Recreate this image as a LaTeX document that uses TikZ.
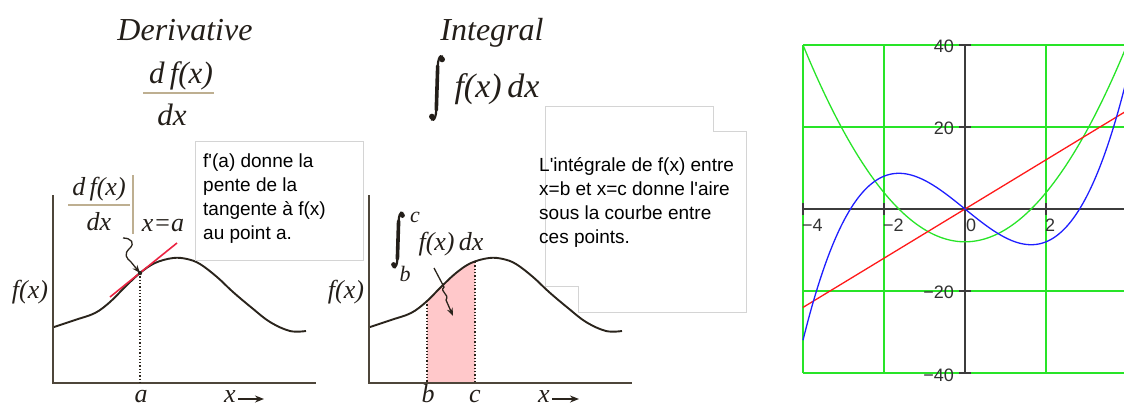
\documentclass[tikz,border=0pt]{standalone}
\usepackage{fontspec}
\setmainfont{Liberation Serif}
\newfontfamily\sansf{Liberation Sans}
\usetikzlibrary{arrows.meta}
\definecolor{axiscol}{RGB}{78,70,58}
\definecolor{curvecol}{RGB}{42,36,28}
\definecolor{mathcol}{RGB}{35,30,25}
\definecolor{barcol}{RGB}{190,175,145}
\definecolor{tanred}{RGB}{235,35,65}
\definecolor{shadecol}{RGB}{255,200,202}
\definecolor{boxline}{RGB}{212,212,212}
\definecolor{gridgreen}{RGB}{40,228,40}
\definecolor{chartaxis}{RGB}{60,60,60}
\definecolor{ticktext}{RGB}{50,50,50}
\definecolor{plotblue}{RGB}{30,30,255}
\definecolor{plotred}{RGB}{255,25,25}
\begin{document}
\begin{tikzpicture}[x=1pt,y=-1pt,
  title/.style={font=\fontsize{32}{38}\selectfont\itshape, text=mathcol, inner sep=0, anchor=base},
  bigmath/.style={font=\fontsize{31}{36}\selectfont\itshape, text=mathcol, inner sep=0, anchor=base},
  mathlbl/.style={font=\fontsize{26}{30}\selectfont\itshape, text=mathcol, inner sep=0, anchor=base},
  limlbl/.style={font=\fontsize{22}{26}\selectfont\itshape, text=mathcol, inner sep=0, anchor=base},
  fracbar/.style={draw=barcol, line width=1.2},
  axisline/.style={draw=axiscol, line width=2.2},
  curveline/.style={draw=curvecol, line width=1.9, line join=round},
  dotline/.style={draw=curvecol, line width=1.3, dotted},
  squig/.style={draw=curvecol, line width=1.3, -{Stealth[length=8pt,width=6pt]}},
  xarrow/.style={draw=curvecol, line width=1.8, -{Stealth[length=9pt,width=7pt]}},
  textbox/.style={draw=boxline, line width=0.9, fill=white},
  boxtext/.style={font=\sansf\fontsize{19}{24}\selectfont, text=black, align=left, inner sep=0, anchor=north west},
  gridl/.style={draw=gridgreen, line width=1.2},
  caxis/.style={draw=chartaxis, line width=1.3},
  ticklbl/.style={font=\sansf\fontsize{18}{20}\selectfont, text=ticktext, inner sep=0},
  intsign/.pic={
    \draw[mathcol, line width=2.2, line cap=round] (5.5,-29) .. controls (6,-33.5) and (1.4,-34) .. (0.7,-22);
    \draw[mathcol, line width=3.6, line cap=round] (0.7,-22) -- (-0.7,22);
    \draw[mathcol, line width=2.2, line cap=round] (-0.7,22) .. controls (-1.4,34) and (-6,33.5) .. (-5.5,29);
    \fill[mathcol] (5.1,-28.6) circle (2.9) (-5.1,28.6) circle (2.9);
  }
]
\useasboundingbox (0,0) rectangle (1124,408);

% ---------------- Derivative panel ----------------
\node[title] (dtitle) at (185,40.5) {Derivative};
\node[bigmath] (dnum) at (181,83) {d\,f(x)};
\draw[fracbar] (143,93) -- (214,93);
\node[bigmath] (dden) at (172,125) {dx};

\draw[axisline] (53,195) -- (53,383) -- (316,383);
\draw[curveline] plot[smooth, tension=0.6] coordinates {(54,327) (75,320) (95,313) (110,302) (125,287) (140,273) (155,263) (173,258) (187,259) (200,264) (217,277) (233,292) (252,308) (270,322) (290,331) (306,331)};
\coordinate (pa) at (140,273);
\coordinate (pabase) at (140,383);
\draw[dotline] (pa) -- (pabase);
\coordinate (tanA) at (110,297);
\coordinate (tanB) at (177,243);
\draw[draw=tanred, line width=1.6] (tanA) -- (tanB);
\fill[curvecol] (pa) circle (2.2);

\node[mathlbl] (fxl) at (30,298) {f(x)};
\node[mathlbl] (albl) at (141,402) {a};
\node[mathlbl] (xl1) at (230,402) {x};
\coordinate (xl1end) at (264,399);
\draw[xarrow] (xl1.east |- xl1end) ++(2,0) coordinate (xl1start) -- (xl1end);

\node[mathlbl] (snum) at (99,195) {d\,f(x)};
\draw[fracbar] (68,205) -- (130,205);
\node[mathlbl] (sden) at (99,230) {dx};
\draw[fracbar] (133,175) -- (133,234);
\node[mathlbl] (xeqa) at (163,231) {x=a};
\coordinate (sq1) at (123,238);
\draw[squig] (sq1) .. controls (131,238) and (136,243) .. (129,249) .. controls (124,254) and (126,258) .. (131,262) -- (pa);

\draw[textbox] (195,141) rectangle (363,260);
\node[boxtext] (dtext) at (203,154) {f'(a) donne la\\pente de la\\tangente à f(x)\\au point a.};

% ---------------- Integral panel ----------------
\node[title] (ititle) at (492,40.5) {Integral};
\pic at (437,88) {intsign};
\node[bigmath, font=\fontsize{34}{38}\selectfont\itshape] (ibig) at (497,97) {f(x)\,dx};

\begin{scope}[xshift=316]
  \begin{scope}
    \clip (111,0) rectangle (159,383);
    \fill[shadecol] plot[smooth, tension=0.6] coordinates {(54,327) (75,320) (95,313) (110,302) (125,287) (140,273) (155,263) (173,258) (187,259) (200,264) (217,277) (233,292) (252,308) (270,322) (290,331) (306,331)} -- (306,383) -- (54,383) -- cycle;
  \end{scope}
  \draw[axisline] (53,195) -- (53,383) -- (316,383);
  \draw[curveline] plot[smooth, tension=0.6] coordinates {(54,327) (75,320) (95,313) (110,302) (125,287) (140,273) (155,263) (173,258) (187,259) (200,264) (217,277) (233,292) (252,308) (270,322) (290,331) (306,331)};
  \coordinate (pb) at (111,301);
  \coordinate (pbbase) at (111,383);
  \coordinate (pc) at (159,262);
  \coordinate (pcbase) at (159,383);
  \draw[dotline] (pb) -- (pbbase);
  \draw[dotline] (pc) -- (pcbase);
\end{scope}

\node[mathlbl] (fxm) at (346,298) {f(x)};
\node[mathlbl] (blbl) at (428,402) {b};
\node[mathlbl] (clbl) at (475,402) {c};
\node[mathlbl] (xl2) at (544,402) {x};
\coordinate (xl2end) at (579,399);
\draw[xarrow] (xl2.east |- xl2end) ++(2,0) coordinate (xl2start) -- (xl2end);

\pic[scale=0.86] at (398,240) {intsign};
\node[limlbl] (uplim) at (415,222) {c};
\node[limlbl] (lolim) at (405,281) {b};
\node[mathlbl] (ismall) at (451,250) {f(x)\,dx};
\coordinate (sq2) at (434,268);
\coordinate (sq2end) at (453,316);
\draw[squig] (sq2) -- (444,287) .. controls (439,292) and (450,294) .. (446,300) -- (sq2end);

\draw[textbox] (545,106) -- (713,106) -- (713,131) -- (746,131) -- (746,312) -- (578,312) -- (578,286) -- (545,286) -- cycle;
\node[boxtext] (itext) at (539,157.5) {L'intégrale de f(x) entre\\x=b et x=c donne l'aire\\sous la courbe entre\\ces points.};

% ---------------- Chart ----------------
\begin{scope}
  \clip (790,30) rectangle (1124,395);
  \foreach \gx in {-4,-2,0,2,4} \draw[gridl] ({965+40.5*\gx},45) -- ({965+40.5*\gx},373);
  \foreach \gy in {-40,-20,0,20,40} \draw[gridl] (803,{209-4.1*\gy}) -- (1127,{209-4.1*\gy});
  \draw[caxis] (803,209) -- (1127,209);
  \draw[caxis] (965,45) -- (965,373);
  \foreach \gx in {-4,-2,2,4} \draw[caxis] ({965+40.5*\gx},203) -- ({965+40.5*\gx},215);
  \foreach \gy in {-40,-20,20,40} \draw[caxis] (959,{209-4.1*\gy}) -- (971,{209-4.1*\gy});
  \draw[draw=gridgreen, line width=1.3] plot[domain=-4:4, samples=160] ({965+40.5*\x},{209-4.1*(3*\x*\x-8)});
  \draw[draw=plotred, line width=1.3] plot[domain=-4:4, samples=20] ({965+40.5*\x},{209-4.1*(6*\x)});
  \draw[draw=plotblue, line width=1.3] plot[domain=-4:4, samples=200] ({965+40.5*\x},{209-4.1*(\x*\x*\x-8*\x)});
\end{scope}
\node[ticklbl, anchor=base east] (ty40) at (954,52) {40};
\node[ticklbl, anchor=base east] (ty20) at (954,134) {20};
\node[ticklbl, anchor=base east] (tym20) at (954,298) {−20};
\node[ticklbl, anchor=base east] (tym40) at (954,381) {−40};
\node[ticklbl, anchor=base west] (txm4) at (802,231) {−4};
\node[ticklbl, anchor=base west] (txm2) at (883,231) {−2};
\node[ticklbl, anchor=base west] (tx0) at (966,231) {0};
\node[ticklbl, anchor=base west] (tx2) at (1045,231) {2};
\end{tikzpicture}
\end{document}
